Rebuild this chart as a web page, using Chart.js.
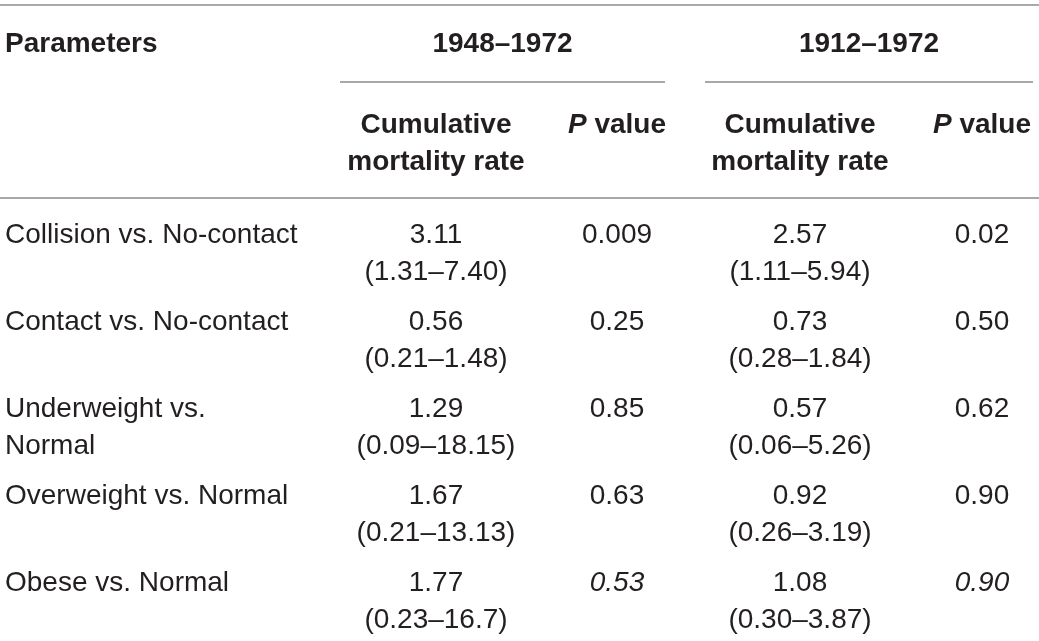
<!DOCTYPE html>
<html lang="en">
  <head>
    <meta charset="UTF-8" />
    <title>Cumulative mortality rate</title>
    <style>
      html, body { margin: 0; padding: 0; background: #fff; }
      #table-chart { display: block; }
    </style>
  </head>
  <script src="https://cdn.jsdelivr.net/npm/chart.js@4.4.1/dist/chart.umd.min.js"></script>
  <body>
    <canvas id="table-chart" width="1039" height="641"></canvas>
    <script>
      const parameters = [
        ['Collision vs. No-contact'],
        ['Contact vs. No-contact'],
        ['Underweight vs.', 'Normal'],
        ['Overweight vs. Normal'],
        ['Obese vs. Normal']
      ];
      const periods = ['1948\u20131972', '1912\u20131972'];
      const rate1948 = ['3.11', '0.56', '1.29', '1.67', '1.77'];
      const ci1948 = ['(1.31\u20137.40)', '(0.21\u20131.48)', '(0.09\u201318.15)', '(0.21\u201313.13)', '(0.23\u201316.7)'];
      const p1948 = ['0.009', '0.25', '0.85', '0.63', '0.53'];
      const rate1912 = ['2.57', '0.73', '0.57', '0.92', '1.08'];
      const ci1912 = ['(1.11\u20135.94)', '(0.28\u20131.84)', '(0.06\u20135.26)', '(0.26\u20133.19)', '(0.30\u20133.87)'];
      const p1912 = ['0.02', '0.50', '0.62', '0.90', '0.90'];
      const italicP = [false, false, false, false, true];

      const textColor = '#231f20';
      const ruleColor = '#8c8c8c';
      const regular = '28px "Liberation Sans", Arial, sans-serif';
      const bold = 'bold 28px "Liberation Sans", Arial, sans-serif';
      const italic = 'italic 28px "Liberation Sans", Arial, sans-serif';
      const boldItalic = 'italic bold 28px "Liberation Sans", Arial, sans-serif';

      // layout (pixel units of the hidden scales)
      const colLeft = 5;
      const colCenters = [436, 617, 800, 982];
      const groupRules = [[340, 665], [705, 1033]];
      const firstBaseline = 243;
      const lineGap = 37;
      const rowGap = 87;

      const tablePlugin = {
        id: 'tablePlugin',
        afterDraw(chart) {
          const ctx = chart.ctx;
          const xs = chart.scales.x;
          const ys = chart.scales.y;
          const px = (v) => xs.getPixelForValue(v);
          const py = (v) => ys.getPixelForValue(v);

          ctx.save();
          ctx.strokeStyle = ruleColor;
          ctx.lineWidth = 1.5;
          const rule = (x0, x1, y) => {
            ctx.beginPath();
            ctx.moveTo(px(x0), py(y));
            ctx.lineTo(px(x1), py(y));
            ctx.stroke();
          };
          rule(0, 1039, 5);
          groupRules.forEach((r) => rule(r[0], r[1], 82));
          rule(0, 1039, 198);

          ctx.fillStyle = textColor;
          ctx.textBaseline = 'alphabetic';
          const text = (s, x, y, font, align) => {
            ctx.font = font;
            ctx.textAlign = align || 'center';
            ctx.fillText(s, px(x), py(y));
          };
          const pValueHeader = (x, y) => {
            ctx.font = boldItalic;
            const w1 = ctx.measureText('P').width;
            ctx.font = bold;
            const w2 = ctx.measureText(' value').width;
            const start = px(x) - (w1 + w2) / 2;
            ctx.textAlign = 'left';
            ctx.font = boldItalic;
            ctx.fillText('P', start, py(y));
            ctx.font = bold;
            ctx.fillText(' value', start + w1, py(y));
          };

          // header
          text('Parameters', colLeft, 52, bold, 'left');
          periods.forEach((p, i) => {
            text(p, (groupRules[i][0] + groupRules[i][1]) / 2, 52, bold);
          });
          [0, 2].forEach((c) => {
            text('Cumulative', colCenters[c], 133, bold);
            text('mortality rate', colCenters[c], 170, bold);
          });
          pValueHeader(colCenters[1], 133);
          pValueHeader(colCenters[3], 133);

          // body
          parameters.forEach((lines, i) => {
            const y = firstBaseline + rowGap * i;
            lines.forEach((l, k) => text(l, colLeft, y + lineGap * k, regular, 'left'));
            text(rate1948[i], colCenters[0], y, regular);
            text(ci1948[i], colCenters[0], y + lineGap, regular);
            text(p1948[i], colCenters[1], y, italicP[i] ? italic : regular);
            text(rate1912[i], colCenters[2], y, regular);
            text(ci1912[i], colCenters[2], y + lineGap, regular);
            text(p1912[i], colCenters[3], y, italicP[i] ? italic : regular);
          });
          ctx.restore();
        }
      };

      new Chart(document.getElementById('table-chart').getContext('2d'), {
        type: 'scatter',
        data: { datasets: [{ data: [] }] },
        options: {
          responsive: false,
          animation: false,
          devicePixelRatio: 1,
          layout: { padding: 0 },
          plugins: {
            legend: { display: false },
            tooltip: { enabled: false }
          },
          scales: {
            x: { type: 'linear', min: 0, max: 1039, display: false },
            y: { type: 'linear', min: 0, max: 641, reverse: true, display: false }
          }
        },
        plugins: [tablePlugin]
      });
    </script>
  </body>
</html>
